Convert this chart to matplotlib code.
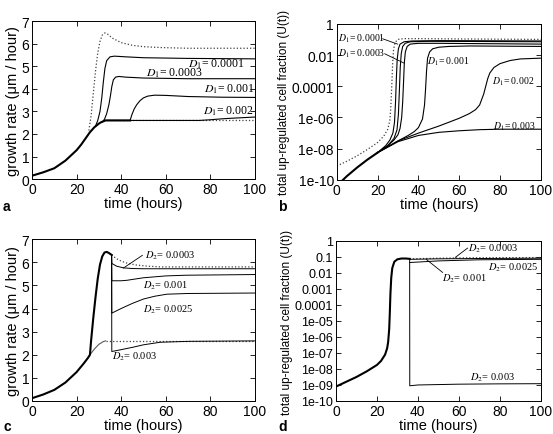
import matplotlib
matplotlib.use('Agg')
import matplotlib.pyplot as plt

plt.rcParams['font.family'] = ['Liberation Sans', 'DejaVu Sans']
plt.rcParams['mathtext.fontset'] = 'stix'

# ---- panel a: growth rate, varying D1 ----
a_base_t = [0, 5, 10, 15, 20, 22, 24, 26, 28, 30, 31, 32, 33, 35, 40, 44]
a_base_v = [0.15, 0.3, 0.48, 0.82, 1.28, 1.52, 1.8, 2.08, 2.3, 2.46, 2.52, 2.56, 2.6, 2.6, 2.6, 2.6]
a_dot_t = [25.5, 26.5, 27.5, 28.5, 29.5, 30.5, 31.5, 32.7, 34, 36, 40, 45, 50, 58, 70, 100]
a_dot_v = [2.15, 2.8, 3.8, 4.8, 5.6, 6.1, 6.38, 6.48, 6.42, 6.25, 6.05, 5.93, 5.87, 5.83, 5.8, 5.8]
a_d0001_t = [28.5, 29.5, 30.5, 31.3, 32, 32.7, 33.5, 35, 37, 42, 50, 70, 100]
a_d0001_v = [2.35, 2.6, 3.0, 3.6, 4.3, 4.9, 5.25, 5.42, 5.45, 5.42, 5.38, 5.35, 5.33]
a_d0003_t = [31.5, 32.5, 33.5, 34.5, 35.2, 35.8, 36.5, 37.5, 39, 42, 50, 70, 100]
a_d0003_v = [2.53, 2.65, 2.9, 3.3, 3.7, 4.1, 4.4, 4.52, 4.55, 4.52, 4.48, 4.45, 4.45]
a_d001_t = [44, 44.8, 45.8, 47, 48.5, 50, 52, 55, 60, 70, 85, 100]
a_d001_v = [2.6, 2.85, 3.1, 3.3, 3.48, 3.6, 3.68, 3.72, 3.71, 3.66, 3.63, 3.62]
a_d002_t = [33, 50, 75, 80, 85, 90, 100]
a_d002_v = [2.6, 2.6, 2.6, 2.63, 2.67, 2.7, 2.75]
a_d003_t = [33, 60, 100]
a_d003_v = [2.6, 2.6, 2.6]

# ---- panel b: log10 of up-regulated fraction, varying D1 ----
b_dot_t = [0, 5, 10, 15, 20, 23, 25, 26, 26.5, 27, 27.4, 27.8, 28.5, 30, 33, 40, 60, 100]
b_dot_v = [-9.1, -8.8, -8.45, -8.05, -7.6, -7.2, -6.75, -6.2, -5.3, -3.8, -2.5, -1.7, -1.2, -1.0, -0.95, -0.95, -0.97, -1.0]
b_base_t = [3, 5, 10, 15, 20]
b_base_v = [-10, -9.75, -9.2, -8.7, -8.25]
b_d0001_t = [20, 24, 26, 27.5, 28.3, 28.8, 29.2, 29.6, 30.2, 31, 33, 37, 50, 100]
b_d0001_v = [-8.25, -7.8, -7.45, -7.0, -6.3, -5.0, -3.5, -2.3, -1.6, -1.3, -1.15, -1.1, -1.08, -1.1]
b_dx_t = [20, 25, 28, 29.5, 30.2, 30.7, 31.1, 31.6, 32.3, 33.5, 36, 45, 100]
b_dx_v = [-8.25, -7.8, -7.35, -6.8, -5.8, -4.2, -2.8, -1.9, -1.45, -1.25, -1.15, -1.12, -1.15]
b_d0003_t = [20, 25, 28, 30, 31, 31.8, 32.3, 32.7, 33.1, 33.6, 34.5, 36, 40, 50, 100]
b_d0003_v = [-8.25, -7.8, -7.45, -7.1, -6.7, -6.0, -5.0, -3.8, -2.5, -1.8, -1.45, -1.3, -1.25, -1.25, -1.3]
b_d001_t = [20, 30, 35, 38, 40, 42, 43, 43.5, 44, 44.5, 45.5, 47, 50, 55, 65, 100]
b_d001_v = [-8.25, -7.5, -7.15, -6.9, -6.65, -6.1, -5.2, -4.2, -3.0, -2.2, -1.8, -1.6, -1.5, -1.45, -1.42, -1.45]
b_d002_t = [20, 30, 40, 50, 60, 65, 68, 70, 72, 73, 74, 75, 77, 80, 85, 90, 100]
b_d002_v = [-8.25, -7.5, -7.0, -6.55, -6.05, -5.75, -5.5, -5.2, -4.5, -4.0, -3.5, -3.15, -2.8, -2.55, -2.35, -2.25, -2.2]
b_d003_t = [20, 30, 40, 50, 60, 70, 80, 100]
b_d003_v = [-8.25, -7.55, -7.15, -6.95, -6.85, -6.78, -6.75, -6.75]

# ---- panel c: growth rate, varying D2 ----
c_base_t = [0, 5, 10, 15, 20, 23, 25, 26, 26.5, 27.5, 28.5, 29.5, 30.5, 31.5, 32.5, 33.5, 34.5, 35.7]
c_base_v = [0.12, 0.28, 0.48, 0.8, 1.25, 1.6, 1.85, 2.0, 2.6, 3.6, 4.5, 5.3, 5.9, 6.25, 6.42, 6.45, 6.4, 6.32]
c_low_t = [26, 28, 30, 32, 33]
c_low_v = [2.0, 2.25, 2.45, 2.57, 2.6]
c_lowdot_t = [33, 60, 100]
c_lowdot_v = [2.6, 2.6, 2.6]
c_dot_t = [35.7, 38, 40, 43, 47, 52, 58, 70, 100]
c_dot_v = [6.32, 6.15, 6.05, 5.95, 5.88, 5.83, 5.8, 5.8, 5.8]
c_d0003_t = [35.7, 35.8, 38, 41, 45, 50, 60, 100]
c_d0003_v = [6.32, 5.95, 5.83, 5.76, 5.73, 5.72, 5.72, 5.72]
c_d001_t = [35.7, 35.8, 40, 42.5, 50, 60, 69, 100]
c_d001_v = [6.32, 5.2, 5.2, 5.22, 5.33, 5.41, 5.44, 5.47]
c_d0025_t = [35.7, 35.8, 40, 45, 50, 55, 60.5, 70, 100]
c_d0025_v = [6.32, 3.8, 4.0, 4.22, 4.41, 4.53, 4.62, 4.65, 4.67]
c_d003_t = [35.7, 35.8, 40, 45.5, 50, 57.5, 70, 100]
c_d003_v = [6.32, 2.14, 2.22, 2.33, 2.43, 2.54, 2.58, 2.6]

# ---- panel d: log10 of up-regulated fraction, varying D2 ----
d_base_t = [0, 5, 10, 15, 20, 22, 24, 25, 25.5, 26, 26.3, 26.6, 27, 27.5, 28.5, 30, 32, 34, 36]
d_base_v = [-9.1, -8.8, -8.5, -8.15, -7.75, -7.5, -7.1, -6.7, -6.3, -5.5, -4.5, -3.3, -2.3, -1.7, -1.3, -1.15, -1.1, -1.1, -1.12]
d_d0003_t = [36, 50, 70, 100]
d_d0003_v = [-1.12, -1.08, -1.05, -1.04]
d_d001_t = [36, 50, 70, 100]
d_d001_v = [-1.15, -1.12, -1.1, -1.08]
d_d0025_t = [36, 50, 70, 100]
d_d0025_v = [-1.35, -1.25, -1.18, -1.15]
d_d003_t = [36, 36.05, 40, 60, 80, 100]
d_d003_v = [-1.12, -9.05, -9.0, -8.95, -8.93, -8.92]

b_ticks = [-10, -8, -6, -4, -2, 0]
b_ticklabels = ['1e-10', '1e-08', '1e-06', '0.0001', '0.01', '1']
d_ticks = list(range(-10, 1))
d_ticklabels = ['1e-10', '1e-09', '1e-08', '1e-07', '1e-06', '1e-05',
                '0.0001', '0.001', '0.01', '0.1', '1']

THICK = 1.5
THIN = 0.8
DOT = dict(ls=':', lw=0.9, color='0.25')
SOL = dict(ls='-', lw=THIN, color='black')
LAB = dict(family='Liberation Serif', ha='left', va='center')
LEAD = dict(color='black', lw=0.6)


def lab(name, value):
    return r'$D_{\mathit{' + name + r'}}$= ' + value


def style_axes(ax, tick_size=10):
    ax.tick_params(direction='in', top=True, right=True, length=3.5, width=0.6,
                   labelsize=tick_size, pad=2)
    for s in ax.spines.values():
        s.set_linewidth(0.7)
    ax.set_xlim(0, 100)
    ax.set_xticks([0, 20, 40, 60, 80, 100])
    ax.set_xlabel('time (hours)', fontsize=10.5, labelpad=0)


fig = plt.figure(figsize=(5.53, 4.35), dpi=100)
ax_a = fig.add_axes([0.0579, 0.586, 0.403, 0.363])
ax_b = fig.add_axes([0.609, 0.584, 0.369, 0.359])
ax_c = fig.add_axes([0.0579, 0.0759, 0.403, 0.372])
ax_d = fig.add_axes([0.6076, 0.0759, 0.370, 0.368])

# a
ax = ax_a
ax.plot(a_d003_t, a_d003_v, **DOT)
ax.plot(a_d002_t, a_d002_v, **SOL)
ax.plot(a_dot_t, a_dot_v, **DOT)
ax.plot(a_d0001_t, a_d0001_v, **SOL)
ax.plot(a_d0003_t, a_d0003_v, **SOL)
ax.plot(a_d001_t, a_d001_v, **SOL)
ax.plot(a_base_t, a_base_v, color='black', lw=THICK)
ax.set_ylim(0, 7)
ax.set_yticks(range(8))
style_axes(ax)
ax.set_ylabel('growth rate (μm / hour)', fontsize=10.5, labelpad=1)
ax.text(70, 5.15, lab('1', '0.0001'), fontsize=8.5, **LAB)
ax.text(51, 4.72, lab('1', '0.0003'), fontsize=8.5, **LAB)
ax.text(77, 4.02, lab('1', '0.001'), fontsize=8.5, **LAB)
ax.text(76.5, 3.04, lab('1', '0.002'), fontsize=8.5, **LAB)

# b
ax = ax_b
ax.plot(b_dot_t, b_dot_v, **DOT)
for t, v in [(b_d0001_t, b_d0001_v), (b_dx_t, b_dx_v), (b_d0003_t, b_d0003_v),
             (b_d001_t, b_d001_v), (b_d002_t, b_d002_v), (b_d003_t, b_d003_v)]:
    ax.plot(t, v, **SOL)
ax.plot(b_base_t, b_base_v, color='black', lw=THICK)
ax.set_ylim(-10, 0)
ax.set_yticks(b_ticks)
ax.set_yticklabels(b_ticklabels)
style_axes(ax)
ax.set_ylabel('total up-regulated cell fraction (U(t))', fontsize=8.5, labelpad=1)
ax.text(0.8, -0.92, lab('1', '0.0001'), fontsize=7, **LAB)
ax.plot([22.5, 29.8], [-0.96, -1.3], **LEAD)
ax.text(0.8, -1.86, lab('1', '0.0003'), fontsize=7, **LAB)
ax.plot([23.5, 33], [-1.92, -2.52], **LEAD)
ax.text(44, -2.35, lab('1', '0.001'), fontsize=7, **LAB)
ax.text(76, -3.63, lab('1', '0.002'), fontsize=7, **LAB)
ax.text(76.6, -6.56, lab('1', '0.003'), fontsize=7, **LAB)

# c
ax = ax_c
ax.plot(c_lowdot_t, c_lowdot_v, **DOT)
ax.plot(c_low_t, c_low_v, color='0.35', lw=THIN)
ax.plot(c_dot_t, c_dot_v, **DOT)
for t, v in [(c_d0003_t, c_d0003_v), (c_d001_t, c_d001_v),
             (c_d0025_t, c_d0025_v), (c_d003_t, c_d003_v)]:
    ax.plot(t, v, color='black', lw=0.7)
ax.plot(c_base_t, c_base_v, color='black', lw=THICK)
ax.set_ylim(0, 7)
ax.set_yticks(range(8))
style_axes(ax)
ax.set_ylabel('growth rate (μm / hour)', fontsize=10.5, labelpad=1)
ax.text(50.7, 6.31, lab('2', '0.0003'), fontsize=7.5, **LAB)
ax.plot([49.5, 41], [6.3, 5.75], **LEAD)
ax.text(50, 5.02, lab('2', '0.001'), fontsize=7.5, **LAB)
ax.text(50, 4.01, lab('2', '0.0025'), fontsize=7.5, **LAB)
ax.text(35.8, 1.97, lab('2', '0.003'), fontsize=7.5, **LAB)

# d
ax = ax_d
ax.plot(d_d0003_t, d_d0003_v, **DOT)
for t, v in [(d_d001_t, d_d001_v), (d_d0025_t, d_d0025_v), (d_d003_t, d_d003_v)]:
    ax.plot(t, v, color='black', lw=0.7)
ax.plot(d_base_t, d_base_v, color='black', lw=THICK)
ax.set_ylim(-10, 0)
ax.set_yticks(d_ticks)
ax.set_yticklabels(d_ticklabels)
style_axes(ax, tick_size=10)
ax.tick_params(axis='y', labelsize=9)
ax.set_ylabel('total up-regulated cell fraction (U(t))', fontsize=8.5, labelpad=1)
ax.text(64.6, -0.41, lab('2', '0.0003'), fontsize=7.5, **LAB)
ax.plot([64.3, 58.3], [-0.45, -1.03], **LEAD)
ax.text(51.6, -2.28, lab('2', '0.001'), fontsize=7.5, **LAB)
ax.plot([52.1, 44], [-1.97, -1.14], **LEAD)
ax.text(74.4, -1.6, lab('2', '0.0025'), fontsize=7.5, **LAB)
ax.text(65.5, -8.51, lab('2', '0.003'), fontsize=7.5, **LAB)

for x, y, s in [(3, 207, 'a'), (278, 207, 'b'), (3, 427, 'c'), (278, 427, 'd')]:
    fig.text(x / 553, 1 - y / 435, s, fontsize=10, fontweight='bold', ha='left', va='center')

fig.savefig('out.png', dpi=100)
